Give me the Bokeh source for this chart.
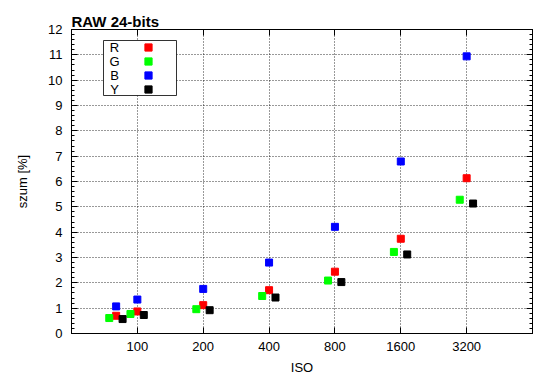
from bokeh.plotting import figure
from bokeh.models import (FixedTicker, LinearAxis, LogAxis, Range1d, BoxAnnotation,
                          Label, Legend, LegendItem)
from bokeh.embed import file_html
from bokeh.resources import INLINE

# ---- data ----
iso = [80, 100, 200, 400, 800, 1600, 3200]
tick_iso = [100, 200, 400, 800, 1600, 3200]
tick_labels = ["100", "200", "400", "800", "1600", "3200"]
y_ticks = list(range(0, 13))

series_names = ["R", "G", "B", "Y"]
r_vals = [0.70, 0.87, 1.12, 1.71, 2.44, 3.74, 6.13]
g_vals = [0.61, 0.77, 0.96, 1.48, 2.09, 3.22, 5.28]
b_vals = [1.07, 1.34, 1.76, 2.80, 4.21, 6.79, 10.94]
y_vals = [0.57, 0.73, 0.92, 1.42, 2.03, 3.12, 5.13]
series_vals = [r_vals, g_vals, b_vals, y_vals]
colors = ["#ff0000", "#00ff00", "#0000ff", "#000000"]
x_dodge = [1.0, 0.93, 1.0, 1.07]   # multiplicative dodge on log axis

FONT = "Liberation Sans"

p = figure(width=545, height=385, x_axis_type="log",
           x_range=Range1d(50, 6400), y_range=Range1d(0, 12),
           output_backend="svg", toolbar_location=None,
           min_border_left=71, min_border_right=13,
           min_border_top=29, min_border_bottom=52)

p.title.text = "RAW 24-bits"
p.title.align = "left"
p.title.text_font = FONT
p.title.text_font_size = "15px"
p.title.text_font_style = "bold"
p.title.text_color = "black"
p.title.standoff = 0
p.title.offset = 0

p.outline_line_color = "black"
p.outline_line_width = 1
p.background_fill_color = "white"

xticker = FixedTicker(ticks=tick_iso, minor_ticks=[])
yticker = FixedTicker(ticks=y_ticks, minor_ticks=[i * 0.2 for i in range(61)])

def style_axis(ax, minor=True):
    ax.axis_line_color = "black"
    ax.major_tick_line_color = "black"
    ax.minor_tick_line_color = "black"
    ax.major_tick_in = 6
    ax.major_tick_out = 0
    ax.minor_tick_in = 3 if minor else 0
    ax.minor_tick_out = 0
    ax.major_label_text_font = FONT
    ax.major_label_text_font_size = "13px"
    ax.major_label_text_color = "black"
    ax.axis_label_text_font = FONT
    ax.axis_label_text_font_size = "13px"
    ax.axis_label_text_font_style = "normal"
    ax.axis_label_text_color = "black"

xa = p.xaxis[0]
xa.ticker = xticker
xa.major_label_overrides = {t: l for t, l in zip(tick_iso, tick_labels)}
xa.axis_label = "ISO"
style_axis(xa, minor=False)
xa.major_label_standoff = 8
xa.axis_label_standoff = 6

ya = p.yaxis[0]
ya.ticker = yticker
ya.axis_label = "szum [%]"
style_axis(ya)
ya.major_label_standoff = 9
ya.axis_label_standoff = 15

ra = LinearAxis(ticker=yticker)
style_axis(ra)
ra.major_label_text_font_size = "0px"
ra.major_label_text_color = None
ra.major_label_standoff = 0
p.add_layout(ra, "right")

ta = LogAxis(ticker=xticker)
style_axis(ta, minor=False)
ta.major_label_text_font_size = "0px"
ta.major_label_text_color = None
ta.major_label_standoff = 0
p.add_layout(ta, "above")

p.xgrid.ticker = xticker
p.ygrid.ticker = yticker
for g in (p.xgrid[0], p.ygrid[0]):
    g.grid_line_color = "black"
    g.grid_line_alpha = 0.8
    g.grid_line_dash = "1 2"
    g.grid_line_width = 1

renderers = []
for name, vals, col, dg in zip(series_names, series_vals, colors, x_dodge):
    xs = [v * dg for v in iso]
    r = p.scatter(xs, vals, marker="square", size=7, fill_color=col, line_color=col)
    renderers.append(r)

# legend box (gnuplot style: label left, sample right)
box = BoxAnnotation(left=32, right=105, top=293, bottom=238,
                    left_units="screen", right_units="screen",
                    top_units="screen", bottom_units="screen",
                    fill_color="white", fill_alpha=1.0,
                    line_color="black", line_width=1, line_alpha=0.8)
p.add_layout(box)

for i, (n, r) in enumerate(zip(series_names, renderers)):
    lg = Legend(items=[LegendItem(label=n, renderers=[r])],
                location=(68, 277.3 - 14 * i), padding=0, margin=0, spacing=0,
                glyph_width=18, glyph_height=18, label_height=18, label_width=0,
                label_standoff=0, label_text_font_size="1px", label_text_alpha=0,
                background_fill_alpha=0, border_line_alpha=0)
    p.add_layout(lg)
    p.add_layout(Label(x=43, y=286.3 - 14 * i, x_units="screen", y_units="screen",
                       text=n, text_align="center", text_baseline="middle",
                       text_font=FONT, text_font_size="13px", text_color="black"))

open("out.html", "w").write(file_html(p, INLINE))
